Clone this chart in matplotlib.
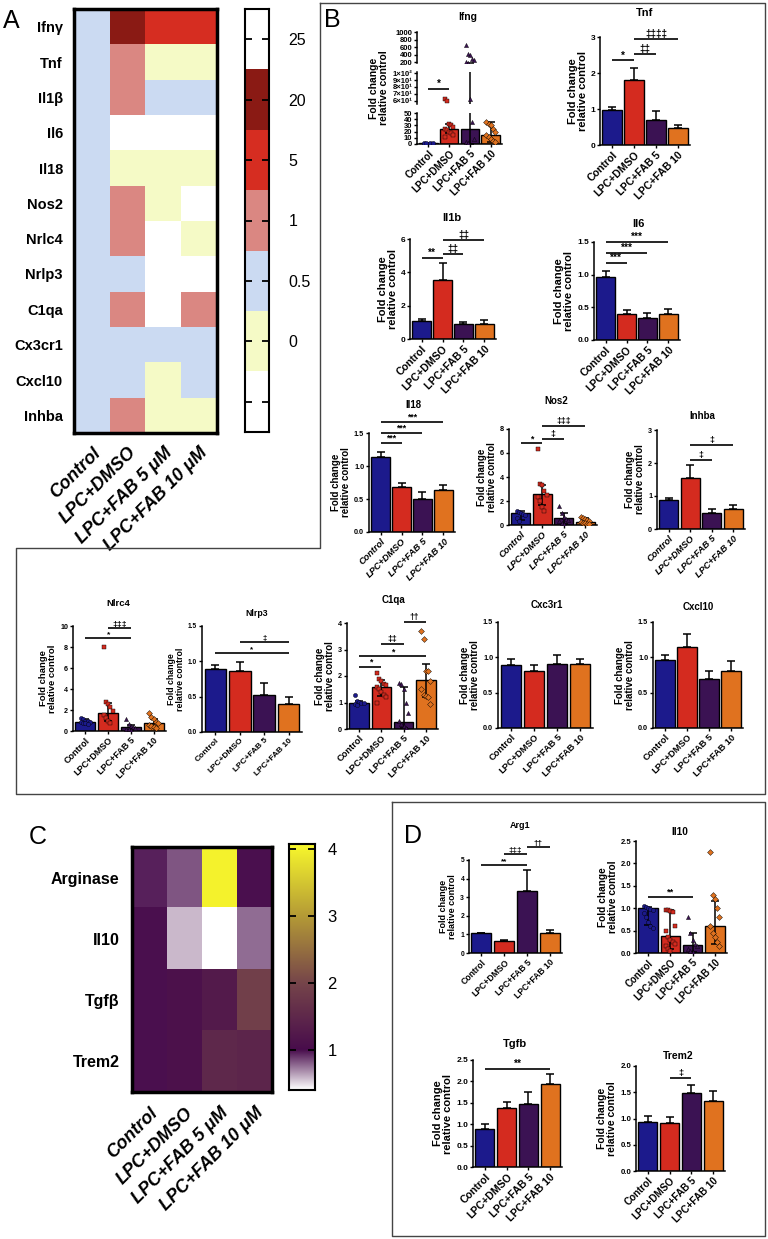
import numpy as np
import matplotlib
matplotlib.use("Agg")
import matplotlib.pyplot as plt
from matplotlib.colors import ListedColormap, LinearSegmentedColormap
from matplotlib.lines import Line2D

plt.rcParams['font.family'] = ['Liberation Sans', 'DejaVu Sans']

W, H = 768, 1239

groups = ["Control", "LPC+DMSO", "LPC+FAB 5", "LPC+FAB 10"]
heat_groups = ["Control", "LPC+DMSO", "LPC+FAB 5 μM", "LPC+FAB 10 μM"]
bar_colors = ["#1c1a8c", "#d42b1f", "#3b1253", "#e0721f"]
markers = ["o", "s", "^", "D"]

# panel A heatmap (level index per cell)
a_genes = ["Ifnγ", "Tnf", "Il1β", "Il6", "Il18", "Nos2", "Nrlc4", "Nrlp3",
           "C1qa", "Cx3cr1", "Cxcl10", "Inhba"]
a_levels = ["25", "20", "5", "1", "0.5", "0", ""]
a_colors = ["#ffffff", "#8a1a14", "#d62d21", "#da8782", "#cbdaf2", "#f5fac6", "#ffffff"]
a_codes = [[4, 1, 2, 2],
           [4, 3, 5, 5],
           [4, 3, 4, 4],
           [4, 6, 6, 6],
           [4, 5, 5, 5],
           [4, 3, 5, 6],
           [4, 3, 6, 5],
           [4, 4, 6, 6],
           [4, 3, 6, 3],
           [4, 4, 4, 4],
           [4, 4, 5, 4],
           [4, 3, 5, 5]]

# panel C heatmap
c_genes = ["Arginase", "Il10", "Tgfβ", "Trem2"]
c_vals = [[0.95, 0.82, 4.0, 1.0],
          [1.0, 0.58, 0.3, 0.76],
          [1.0, 1.1, 1.25, 1.9],
          [1.0, 1.1, 1.5, 1.45]]

# plain bar panels: mean and upper error
tnf_mean = [0.97, 1.80, 0.70, 0.48]
tnf_err = [0.08, 0.35, 0.25, 0.08]
il1b_mean = [1.10, 3.55, 0.90, 0.93]
il1b_err = [0.10, 1.00, 0.15, 0.20]
il6_mean = [0.97, 0.40, 0.33, 0.40]
il6_err = [0.09, 0.06, 0.09, 0.08]
il18_mean = [1.13, 0.68, 0.50, 0.63]
il18_err = [0.08, 0.07, 0.10, 0.08]
inhba_mean = [0.88, 1.55, 0.50, 0.60]
inhba_err = [0.05, 0.38, 0.10, 0.13]
nlrp3_mean = [0.89, 0.87, 0.52, 0.40]
nlrp3_err = [0.06, 0.12, 0.17, 0.09]
cxc3r1_mean = [0.89, 0.81, 0.90, 0.90]
cxc3r1_err = [0.08, 0.08, 0.13, 0.08]
cxcl10_mean = [0.96, 1.15, 0.69, 0.81]
cxcl10_err = [0.07, 0.18, 0.12, 0.14]
arg1_mean = [1.05, 0.63, 3.32, 1.08]
arg1_err = [0.05, 0.07, 1.15, 0.15]
tgfb_mean = [0.88, 1.37, 1.48, 1.95]
tgfb_err = [0.13, 0.15, 0.28, 0.22]
trem2_mean = [0.93, 0.92, 1.48, 1.34]
trem2_err = [0.12, 0.11, 0.15, 0.18]

# dot panels: bar height, whisker low / high, individual points
ifng_bar = [1.0, 25, 24, 14]
ifng_lo = [0.5, 18, 0.5, 3]
ifng_hi = [1.5, 32, 185, 35]
ifng_pts = [[0.3, 0.5, 0.8, 1.0, 1.2, 1.5, 1.8],
            [62, 60, 32, 30, 28, 25, 22, 20, 18, 15, 12],
            [650, 430, 400, 300, 250, 200, 185, 63, 35, 8, 3, 1],
            [35, 33, 30, 25, 20, 15, 12, 8, 5, 3]]

nos2_bar = [1.0, 2.55, 0.55, 0.25]
nos2_lo = [0.4, 1.7, 0.1, 0.05]
nos2_hi = [1.2, 3.3, 1.0, 0.6]
nos2_pts = [[1.15, 1.1, 1.0, 0.95, 0.8, 0.6, 0.3],
            [6.3, 3.4, 3.3, 2.8, 2.5, 2.3, 2.0, 1.5, 1.2],
            [1.6, 1.0, 0.7, 0.5, 0.4, 0.3, 0.2, 0.1],
            [0.7, 0.6, 0.5, 0.4, 0.3, 0.25, 0.2, 0.15, 0.1, 0.05]]

nlrc4_bar = [0.9, 1.75, 0.35, 0.75]
nlrc4_lo = [0.75, 1.0, 0.1, 0.4]
nlrc4_hi = [1.1, 2.7, 0.6, 1.1]
nlrc4_pts = [[1.2, 1.1, 1.0, 0.95, 0.9, 0.85, 0.8, 0.75, 0.7],
             [8.0, 2.8, 2.6, 2.3, 1.9, 1.5, 1.2, 1.0, 0.8],
             [1.1, 0.7, 0.5, 0.4, 0.3, 0.2, 0.15, 0.1],
             [1.7, 1.3, 1.1, 0.9, 0.8, 0.6, 0.5, 0.4, 0.3]]

c1qa_bar = [1.0, 1.6, 0.25, 1.85]
c1qa_lo = [0.95, 1.25, 0.05, 1.2]
c1qa_hi = [1.05, 1.85, 1.6, 2.45]
c1qa_pts = [[1.3, 1.05, 1.02, 1.0, 0.98, 0.95, 0.92],
            [2.1, 1.9, 1.8, 1.7, 1.65, 1.6, 1.5, 1.4, 1.3, 1.2, 1.0],
            [1.75, 1.7, 1.5, 1.0, 0.6, 0.3, 0.2, 0.1, 0.05],
            [3.7, 3.4, 2.2, 2.2, 1.8, 1.5, 1.3, 1.25, 1.2, 0.95]]

il10_bar = [1.0, 0.37, 0.18, 0.6]
il10_lo = [0.62, 0.1, 0.02, 0.2]
il10_hi = [1.02, 0.95, 0.45, 1.15]
il10_pts = [[1.05, 1.03, 1.0, 0.98, 0.95, 0.9, 0.8, 0.7, 0.6, 0.55],
            [0.95, 0.95, 0.93, 0.92, 0.6, 0.5, 0.35, 0.3, 0.25, 0.2, 0.15, 0.1, 0.05],
            [0.8, 0.45, 0.3, 0.2, 0.15, 0.1, 0.05, 0.02],
            [2.25, 1.3, 1.2, 1.0, 0.8, 0.6, 0.45, 0.35, 0.25, 0.15]]

# significance bars: (from group, to group, height, mark)
ifng_sig = [(0, 1, 77, "*")]
tnf_sig = [(0, 1, 2.35, "*"), (1, 2, 2.52, "‡‡"), (1, 3, 2.94, "‡‡‡‡")]
il1b_sig = [(0, 1, 4.85, "**"), (1, 2, 5.1, "‡‡"), (1, 3, 5.93, "‡‡")]
il6_sig = [(0, 1, 1.18, "***"), (0, 2, 1.33, "***"), (0, 3, 1.5, "***")]
il18_sig = [(0, 1, 1.35, "***"), (0, 2, 1.5, "***"), (0, 3, 1.67, "***")]
nos2_sig = [(0, 1, 6.8, "*"), (1, 2, 7.2, "‡"), (1, 3, 8.25, "‡‡‡")]
inhba_sig = [(1, 2, 2.1, "‡"), (1, 3, 2.55, "‡")]
nlrc4_sig = [(0, 2, 8.85, "*"), (1, 2, 9.85, "‡‡‡")]
nlrp3_sig = [(0, 3, 1.12, "*"), (1, 3, 1.27, "‡")]
c1qa_sig = [(0, 1, 2.35, "*"), (0, 3, 2.75, "*"), (1, 2, 3.2, "‡‡"), (2, 3, 4.05, "††")]
arg1_sig = [(0, 2, 4.73, "**"), (1, 2, 5.3, "‡‡‡"), (2, 3, 5.7, "††")]
il10_sig = [(0, 2, 1.25, "**")]
tgfb_sig = [(0, 3, 2.3, "**")]
trem2_sig = [(1, 2, 1.77, "‡")]


def px(x0, y0, x1, y1):
    return [x0 / W, 1 - y1 / H, (x1 - x0) / W, (y1 - y0) / H]


fig = plt.figure(figsize=(W / 100, H / 100), dpi=100)
fig.patch.set_facecolor("white")


def style(ax, ylim, yticks, fmt, fs, show_x=True, italic=False):
    for s in ["top", "right"]:
        ax.spines[s].set_visible(False)
    for s in ["left", "bottom"]:
        ax.spines[s].set_linewidth(1.1)
    ax.set_xlim(-0.55, 3.55)
    ax.set_ylim(*ylim)
    ax.set_yticks(yticks)
    ax.set_yticklabels([fmt.format(v) for v in yticks], fontsize=fs * 0.75,
                       fontweight="bold")
    ax.tick_params(axis="both", length=2.5, width=1.0, pad=1)
    if show_x:
        ax.set_xticks(range(4))
        ax.set_xticklabels(groups, rotation=45, ha="right", rotation_mode="anchor",
                           fontsize=fs * 0.95, fontweight="bold",
                           fontstyle="italic" if italic else "normal")
    else:
        ax.set_xticks([])
        ax.spines["bottom"].set_visible(False)


def add_sig(ax, sigs, fs):
    for i, j, y, txt in sigs:
        ax.plot([i, j], [y, y], color="black", lw=1.2, clip_on=False,
                solid_capstyle="butt")
        ax.text((i + j) / 2, y, txt, ha="center", va="bottom", fontsize=fs,
                fontweight="bold", clip_on=False)


def draw_dots(ax, bar, lo, hi, pts):
    bar = np.array(bar, float)
    ax.bar(range(4), bar, width=0.88, color=bar_colors, edgecolor="black",
           linewidth=1.0, zorder=2)
    ax.errorbar(range(4), bar, yerr=[bar - np.array(lo), np.array(hi) - bar],
                fmt="none", ecolor="black", elinewidth=1.1, capsize=3,
                capthick=1.1, zorder=4)
    for i, vals in enumerate(pts):
        offs = ((np.arange(len(vals)) % 5) - 2) * 0.1
        ax.scatter(i + offs, vals, s=9, marker=markers[i], color=bar_colors[i],
                   edgecolor="black", linewidth=0.3, zorder=5)


def panel(rect, title, txy, ylim, yticks, fmt, fs, sigs, mean=None, err=None,
          dots=None, italic=False):
    ax = fig.add_axes(px(*rect))
    if dots is None:
        ax.bar(range(4), mean, width=0.88, color=bar_colors, edgecolor="black",
               linewidth=1.0, zorder=2)
        ax.errorbar(range(4), mean, yerr=[np.zeros(4), err], fmt="none",
                    ecolor="black", elinewidth=1.1, capsize=3, capthick=1.1,
                    zorder=1)
    else:
        draw_dots(ax, *dots)
    style(ax, ylim, yticks, fmt, fs, italic=italic)
    ax.set_ylabel("Fold change\nrelative control", fontsize=fs, fontweight="bold",
                  labelpad=2, linespacing=1.0)
    add_sig(ax, sigs, fs * 0.9)
    fig.text(txy[0] / W, 1 - txy[1] / H, title, ha="center", va="center",
             fontsize=fs, fontweight="bold")
    return ax


# ---------------- panel A ----------------
axA = fig.add_axes(px(74, 9, 217, 433))
axA.imshow(np.array(a_codes), cmap=ListedColormap(a_colors), vmin=-0.5, vmax=6.5,
           aspect="auto", interpolation="nearest")
for s in axA.spines.values():
    s.set_linewidth(2.5)
axA.set_yticks(range(len(a_genes)))
axA.set_yticklabels(a_genes, fontsize=10.5, fontweight="bold")
axA.set_xticks(range(4))
axA.set_xticklabels(heat_groups, rotation=45, ha="right", rotation_mode="anchor",
                    fontsize=13, fontweight="bold", fontstyle="italic")
axA.tick_params(length=0, pad=8)

axAc = fig.add_axes(px(245, 9, 269, 432))
axAc.imshow(np.arange(len(a_levels))[:, None], cmap=ListedColormap(a_colors),
            aspect="auto", interpolation="nearest")
for s in axAc.spines.values():
    s.set_linewidth(1.5)
axAc.set_xticks([])
axAc.set_yticks(range(len(a_levels)))
axAc.set_yticklabels(a_levels, fontsize=11.5)
axAc.tick_params(axis="y", direction="in", left=True, right=True, labelleft=False,
                 labelright=True, length=5, width=1.3, pad=14)

# ---------------- panel C ----------------
c_cmap = LinearSegmentedColormap.from_list(
    "c", [(0.0, "#ffffff"), (0.163, "#480c4c"), (0.436, "#76454a"),
          (0.708, "#b49a36"), (1.0, "#f8f82c")])
axC = fig.add_axes(px(132, 847, 272, 1092))
axC.imshow(np.array(c_vals), cmap=c_cmap, vmin=0.4, vmax=4.07, aspect="auto",
           interpolation="nearest")
for s in axC.spines.values():
    s.set_linewidth(2.5)
axC.set_yticks(range(len(c_genes)))
axC.set_yticklabels(c_genes, fontsize=11.5, fontweight="bold")
axC.set_xticks(range(4))
axC.set_xticklabels(heat_groups, rotation=45, ha="right", rotation_mode="anchor",
                    fontsize=13, fontweight="bold", fontstyle="italic")
axC.tick_params(length=0, pad=9)

axCc = fig.add_axes(px(289, 844, 315, 1090))
grad = np.linspace(0.4, 4.07, 256)[:, None]
axCc.imshow(grad, cmap=c_cmap, vmin=0.4, vmax=4.07, aspect="auto", origin="lower",
            extent=[0, 1, 0.4, 4.07])
for s in axCc.spines.values():
    s.set_linewidth(1.5)
axCc.set_xticks([])
axCc.set_yticks([1, 2, 3, 4])
axCc.set_yticklabels(["1", "2", "3", "4"], fontsize=12)
axCc.tick_params(axis="y", direction="in", left=True, right=True, labelleft=False,
                 labelright=True, length=5, width=1.3, pad=9)

# ---------------- panel B ----------------
# Ifng broken axis: three stacked segments
ifng_segs = [((417, 113, 502, 144), (0, 50), [0, 10, 20, 30, 40, 50],
              ["0", "10", "20", "30", "40", "50"]),
             ((417, 72, 502, 104), (55, 102), [60, 70, 80, 90, 100],
              ["6×10¹", "7×10¹", "8×10¹", "9×10¹", "1×10²"]),
             ((417, 32, 502, 63), (180, 1010), [200, 400, 600, 800, 1000],
              ["200", "400", "600", "800", "1000"])]
for k, (rect, ylim, ticks, labels) in enumerate(ifng_segs):
    ax = fig.add_axes(px(*rect))
    ax.patch.set_alpha(0)
    draw_dots(ax, ifng_bar, ifng_lo, ifng_hi, ifng_pts)
    style(ax, ylim, ticks, "{}", 7.5, show_x=(k == 0))
    ax.set_yticklabels(labels, fontsize=5.5, fontweight="bold")
    if k == 1:
        ax.set_ylabel("Fold change\nrelative control", fontsize=7.5,
                      fontweight="bold", labelpad=2, linespacing=1.0)
        add_sig(ax, ifng_sig, 7)
fig.text(468 / W, 1 - 17 / H, "Ifng", ha="center", va="center", fontsize=7.5,
         fontweight="bold")

panel((600, 37, 690, 145), "Tnf", (645, 13), (0, 3), [0, 1, 2, 3], "{:.0f}", 8,
      tnf_sig, tnf_mean, tnf_err)
panel((410, 239, 496, 339), "Il1b", (452, 218), (0, 6), [0, 2, 4, 6], "{:.0f}", 8,
      il1b_sig, il1b_mean, il1b_err)
panel((594, 242, 680, 340), "Il6", (638, 224), (0, 1.5), [0, 0.5, 1.0, 1.5],
      "{:.1f}", 8, il6_sig, il6_mean, il6_err)
panel((369, 433, 455, 532), "Il18", (413, 405), (0, 1.5), [0, 0.5, 1.0, 1.5],
      "{:.1f}", 7, il18_sig, il18_mean, il18_err, italic=True)
panel((509, 429, 597, 525), "Nos2", (556, 401), (0, 8), [0, 2, 4, 6, 8], "{:.0f}", 7,
      nos2_sig, dots=(nos2_bar, nos2_lo, nos2_hi, nos2_pts), italic=True)
panel((657, 430, 745, 529), "Inhba", (702, 416), (0, 3), [0, 1, 2, 3], "{:.0f}", 7,
      inhba_sig, inhba_mean, inhba_err, italic=True)
panel((73, 626, 166, 731), "Nlrc4", (118, 603), (0, 10), [0, 2, 4, 6, 8, 10],
      "{:.0f}", 6.8, nlrc4_sig, dots=(nlrc4_bar, nlrc4_lo, nlrc4_hi, nlrc4_pts))
panel((202, 626, 302, 732), "Nlrp3", (257, 613), (0, 1.5), [0, 0.5, 1.0, 1.5],
      "{:.1f}", 6.3, nlrp3_sig, nlrp3_mean, nlrp3_err)
panel((347, 623, 438, 729), "C1qa", (393, 600), (0, 4), [0, 1, 2, 3, 4], "{:.0f}",
      7, c1qa_sig, dots=(c1qa_bar, c1qa_lo, c1qa_hi, c1qa_pts))
panel((498, 622, 593, 728), "Cxc3r1", (547, 605), (0, 1.5), [0, 0.5, 1.0, 1.5],
      "{:.1f}", 7, [], cxc3r1_mean, cxc3r1_err)
panel((653, 622, 743, 728), "Cxcl10", (698, 607), (0, 1.5), [0, 0.5, 1.0, 1.5],
      "{:.1f}", 7, [], cxcl10_mean, cxcl10_err)

# ---------------- panel D ----------------
panel((469, 860, 562, 953), "Arg1", (520, 825), (0, 5), [0, 1, 2, 3, 4, 5], "{:.0f}",
      6.5, arg1_sig, arg1_mean, arg1_err)
panel((636, 841, 727, 953), "Il10", (680, 832), (0, 2.5), [0, 0.5, 1.0, 1.5, 2.0, 2.5],
      "{:.1f}", 7.3, il10_sig, dots=(il10_bar, il10_lo, il10_hi, il10_pts))
panel((473, 1060, 562, 1167), "Tgfb", (515, 1044), (0, 2.5),
      [0, 0.5, 1.0, 1.5, 2.0, 2.5], "{:.1f}", 8, tgfb_sig, tgfb_mean, tgfb_err)
panel((636, 1066, 725, 1171), "Trem2", (678, 1056), (0, 2.0), [0, 0.5, 1.0, 1.5, 2.0],
      "{:.1f}", 7.5, trem2_sig, trem2_mean, trem2_err)

# ---------------- frames and letters ----------------
def frame(xs, ys):
    fig.add_artist(Line2D(np.array(xs) / W, 1 - np.array(ys) / H, color="#444444",
                          lw=1.0))


frame([320, 765, 765, 16, 16, 320, 320], [3, 3, 794, 794, 548, 548, 3])
frame([392, 765, 765, 392, 392], [802, 802, 1236, 1236, 802])

for letter, (x, y) in zip("ABCD", [(11, 21), (332, 20), (38, 837), (413, 836)]):
    fig.text(x / W, 1 - y / H, letter, ha="center", va="center", fontsize=18)

fig.savefig("out.png", dpi=100)
